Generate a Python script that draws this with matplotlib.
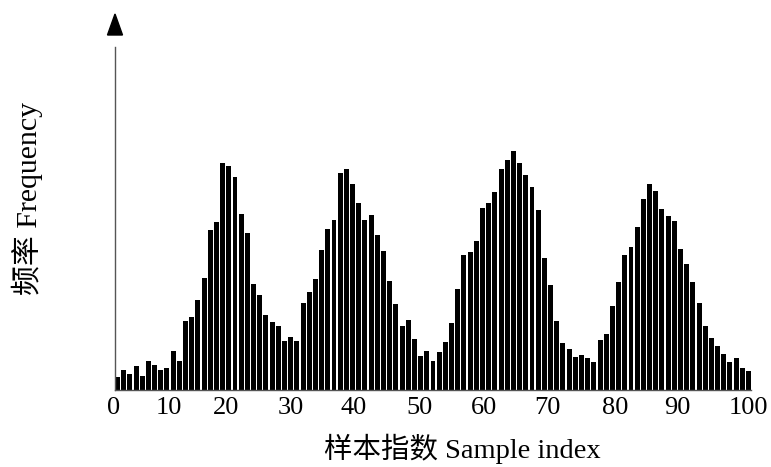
import numpy as np
import matplotlib
matplotlib.use("Agg")
import matplotlib.pyplot as plt
from matplotlib.patches import Polygon
import matplotlib.transforms as mtransforms

# ---- data ----
frequency = [13, 20, 16, 24, 14, 29, 25, 20, 22, 39,
             29, 69, 73, 90, 112, 160, 168, 227, 224, 213,
             176, 157, 106, 95, 75, 68, 64, 49, 53, 49,
             87, 98, 111, 140, 161, 170, 217, 221, 206, 187,
             170, 175, 155, 139, 109, 86, 64, 70, 51, 34,
             39, 29, 38, 48, 67, 101, 135, 138, 149, 182,
             187, 198, 221, 230, 239, 227, 215, 203, 180, 132,
             105, 69, 47, 41, 33, 35, 32, 28, 50, 56,
             84, 108, 135, 143, 163, 191, 206, 199, 181, 174,
             169, 141, 126, 108, 87, 64, 52, 44, 36, 28,
             32, 22, 19]
tick_values = [0, 10, 20, 30, 40, 50, 60, 70, 80, 90, 100]
tick_labels = [str(v) for v in tick_values]
xlabel_text = "样本指数 Sample index"
ylabel_text = "频率 Frequency"

n = len(frequency)
bar_width = 0.8
span = n - 1 + bar_width          # bar-index range covered by the bars
index = np.arange(n)

fam = ["Liberation Serif", "Noto Sans CJK SC", "DejaVu Sans"]

W, H = 771, 467
ax_left, ax_right, ax_top, ax_bottom = 115, 751, 47, 390
fig = plt.figure(figsize=(W / 100, H / 100), dpi=100)
ax = fig.add_axes([ax_left / W, 1 - ax_bottom / H,
                   (ax_right - ax_left) / W, (ax_bottom - ax_top) / H])

ax.bar(index, frequency, width=bar_width, align="edge", color="black",
       edgecolor="none")

ax.set_xlim(0, span)
ax.set_ylim(0, 343)
ax.set_xticks([])
ax.set_yticks([])

# tick labels: the reference places its value labels slightly irregularly
# (layout offsets in pixels, as seen in the reference)
label_px = [114, 169, 226, 291, 354, 420, 484, 547, 615, 677, 748]
px_per_bar = (ax_right - ax_left) / span
trans = mtransforms.blended_transform_factory(ax.transData, ax.transAxes)
for p, lab in zip(label_px, tick_labels):
    xd = (p - ax_left) / px_per_bar
    ax.text(xd, -0.053, lab, transform=trans, ha="center", va="center",
            fontsize=19, family=fam, clip_on=False)

for s in ["top", "right"]:
    ax.spines[s].set_visible(False)
for s in ["left", "bottom"]:
    ax.spines[s].set_color("#555555")
    ax.spines[s].set_linewidth(1.0)

# arrow head above the y axis
tri = Polygon([(115 / W, 1 - 14 / H), (107.5 / W, 1 - 35 / H), (122.5 / W, 1 - 35 / H)],
              closed=True, facecolor="black", edgecolor="black",
              transform=fig.transFigure)
fig.add_artist(tri)

fig.text(462 / W, 1 - 449 / H, xlabel_text, ha="center", va="center",
         fontsize=20.5, family=fam)
fig.text(27 / W, 1 - 198 / H, ylabel_text, ha="center", va="center",
         rotation=90, fontsize=21.5, family=fam)

fig.savefig("out.png", dpi=100)
